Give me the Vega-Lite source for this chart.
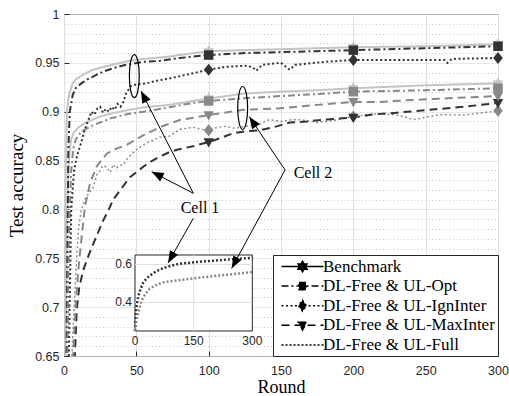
{
  "$schema": "https://vega.github.io/schema/vega-lite/v6.json",
  "width": 434,
  "height": 342,
  "autosize": {"type": "none"},
  "padding": {"left": 64, "top": 14, "right": 11, "bottom": 40},
  "background": "white",
  "datasets": {
    "curves": [
      {"cell":"Cell 1","method":"Benchmark","round":0,"acc":0.3},
      {"cell":"Cell 1","method":"Benchmark","round":1,"acc":0.82},
      {"cell":"Cell 1","method":"Benchmark","round":2,"acc":0.9},
      {"cell":"Cell 1","method":"Benchmark","round":3,"acc":0.913},
      {"cell":"Cell 1","method":"Benchmark","round":4,"acc":0.92},
      {"cell":"Cell 1","method":"Benchmark","round":6,"acc":0.929},
      {"cell":"Cell 1","method":"Benchmark","round":8,"acc":0.933},
      {"cell":"Cell 1","method":"Benchmark","round":12,"acc":0.937},
      {"cell":"Cell 1","method":"Benchmark","round":16,"acc":0.94},
      {"cell":"Cell 1","method":"Benchmark","round":20,"acc":0.943},
      {"cell":"Cell 1","method":"Benchmark","round":28,"acc":0.946},
      {"cell":"Cell 1","method":"Benchmark","round":36,"acc":0.949},
      {"cell":"Cell 1","method":"Benchmark","round":45,"acc":0.952},
      {"cell":"Cell 1","method":"Benchmark","round":55,"acc":0.954},
      {"cell":"Cell 1","method":"Benchmark","round":70,"acc":0.956},
      {"cell":"Cell 1","method":"Benchmark","round":85,"acc":0.959},
      {"cell":"Cell 1","method":"Benchmark","round":100,"acc":0.962},
      {"cell":"Cell 1","method":"Benchmark","round":125,"acc":0.963},
      {"cell":"Cell 1","method":"Benchmark","round":150,"acc":0.964},
      {"cell":"Cell 1","method":"Benchmark","round":175,"acc":0.965},
      {"cell":"Cell 1","method":"Benchmark","round":200,"acc":0.966},
      {"cell":"Cell 1","method":"Benchmark","round":250,"acc":0.967},
      {"cell":"Cell 1","method":"Benchmark","round":300,"acc":0.969},
      {"cell":"Cell 2","method":"Benchmark","round":0,"acc":0.3},
      {"cell":"Cell 2","method":"Benchmark","round":1,"acc":0.6},
      {"cell":"Cell 2","method":"Benchmark","round":2,"acc":0.78},
      {"cell":"Cell 2","method":"Benchmark","round":3,"acc":0.84},
      {"cell":"Cell 2","method":"Benchmark","round":4,"acc":0.862},
      {"cell":"Cell 2","method":"Benchmark","round":5,"acc":0.872},
      {"cell":"Cell 2","method":"Benchmark","round":7,"acc":0.879},
      {"cell":"Cell 2","method":"Benchmark","round":10,"acc":0.884},
      {"cell":"Cell 2","method":"Benchmark","round":15,"acc":0.889},
      {"cell":"Cell 2","method":"Benchmark","round":20,"acc":0.892},
      {"cell":"Cell 2","method":"Benchmark","round":25,"acc":0.895},
      {"cell":"Cell 2","method":"Benchmark","round":32,"acc":0.898},
      {"cell":"Cell 2","method":"Benchmark","round":45,"acc":0.902},
      {"cell":"Cell 2","method":"Benchmark","round":55,"acc":0.9045},
      {"cell":"Cell 2","method":"Benchmark","round":73,"acc":0.907},
      {"cell":"Cell 2","method":"Benchmark","round":85,"acc":0.91},
      {"cell":"Cell 2","method":"Benchmark","round":100,"acc":0.9135},
      {"cell":"Cell 2","method":"Benchmark","round":124,"acc":0.9185},
      {"cell":"Cell 2","method":"Benchmark","round":149,"acc":0.9205},
      {"cell":"Cell 2","method":"Benchmark","round":175,"acc":0.922},
      {"cell":"Cell 2","method":"Benchmark","round":200,"acc":0.924},
      {"cell":"Cell 2","method":"Benchmark","round":250,"acc":0.927},
      {"cell":"Cell 2","method":"Benchmark","round":300,"acc":0.929},
      {"cell":"Cell 1","method":"DL-Free & UL-Opt","round":0,"acc":0.3},
      {"cell":"Cell 1","method":"DL-Free & UL-Opt","round":2,"acc":0.7},
      {"cell":"Cell 1","method":"DL-Free & UL-Opt","round":3,"acc":0.86},
      {"cell":"Cell 1","method":"DL-Free & UL-Opt","round":4,"acc":0.9},
      {"cell":"Cell 1","method":"DL-Free & UL-Opt","round":6,"acc":0.917},
      {"cell":"Cell 1","method":"DL-Free & UL-Opt","round":8,"acc":0.924},
      {"cell":"Cell 1","method":"DL-Free & UL-Opt","round":12,"acc":0.929},
      {"cell":"Cell 1","method":"DL-Free & UL-Opt","round":16,"acc":0.933},
      {"cell":"Cell 1","method":"DL-Free & UL-Opt","round":20,"acc":0.936},
      {"cell":"Cell 1","method":"DL-Free & UL-Opt","round":27,"acc":0.941},
      {"cell":"Cell 1","method":"DL-Free & UL-Opt","round":35,"acc":0.945},
      {"cell":"Cell 1","method":"DL-Free & UL-Opt","round":43,"acc":0.948},
      {"cell":"Cell 1","method":"DL-Free & UL-Opt","round":55,"acc":0.951},
      {"cell":"Cell 1","method":"DL-Free & UL-Opt","round":66,"acc":0.952},
      {"cell":"Cell 1","method":"DL-Free & UL-Opt","round":80,"acc":0.955},
      {"cell":"Cell 1","method":"DL-Free & UL-Opt","round":100,"acc":0.958},
      {"cell":"Cell 1","method":"DL-Free & UL-Opt","round":125,"acc":0.96},
      {"cell":"Cell 1","method":"DL-Free & UL-Opt","round":150,"acc":0.961},
      {"cell":"Cell 1","method":"DL-Free & UL-Opt","round":175,"acc":0.962},
      {"cell":"Cell 1","method":"DL-Free & UL-Opt","round":200,"acc":0.963},
      {"cell":"Cell 1","method":"DL-Free & UL-Opt","round":250,"acc":0.965},
      {"cell":"Cell 1","method":"DL-Free & UL-Opt","round":300,"acc":0.967},
      {"cell":"Cell 2","method":"DL-Free & UL-Opt","round":0,"acc":0.3},
      {"cell":"Cell 2","method":"DL-Free & UL-Opt","round":2,"acc":0.6},
      {"cell":"Cell 2","method":"DL-Free & UL-Opt","round":3,"acc":0.74},
      {"cell":"Cell 2","method":"DL-Free & UL-Opt","round":4,"acc":0.8},
      {"cell":"Cell 2","method":"DL-Free & UL-Opt","round":5,"acc":0.84},
      {"cell":"Cell 2","method":"DL-Free & UL-Opt","round":6.4,"acc":0.862},
      {"cell":"Cell 2","method":"DL-Free & UL-Opt","round":8,"acc":0.871},
      {"cell":"Cell 2","method":"DL-Free & UL-Opt","round":10,"acc":0.876},
      {"cell":"Cell 2","method":"DL-Free & UL-Opt","round":13.3,"acc":0.881},
      {"cell":"Cell 2","method":"DL-Free & UL-Opt","round":20,"acc":0.886},
      {"cell":"Cell 2","method":"DL-Free & UL-Opt","round":31.8,"acc":0.893},
      {"cell":"Cell 2","method":"DL-Free & UL-Opt","round":45,"acc":0.898},
      {"cell":"Cell 2","method":"DL-Free & UL-Opt","round":55,"acc":0.9},
      {"cell":"Cell 2","method":"DL-Free & UL-Opt","round":73,"acc":0.9045},
      {"cell":"Cell 2","method":"DL-Free & UL-Opt","round":85,"acc":0.908},
      {"cell":"Cell 2","method":"DL-Free & UL-Opt","round":100,"acc":0.911},
      {"cell":"Cell 2","method":"DL-Free & UL-Opt","round":124,"acc":0.9137},
      {"cell":"Cell 2","method":"DL-Free & UL-Opt","round":149,"acc":0.916},
      {"cell":"Cell 2","method":"DL-Free & UL-Opt","round":175,"acc":0.918},
      {"cell":"Cell 2","method":"DL-Free & UL-Opt","round":200,"acc":0.9205},
      {"cell":"Cell 2","method":"DL-Free & UL-Opt","round":250,"acc":0.922},
      {"cell":"Cell 2","method":"DL-Free & UL-Opt","round":300,"acc":0.924},
      {"cell":"Cell 1","method":"DL-Free & UL-IgnInter","round":0,"acc":0.3},
      {"cell":"Cell 1","method":"DL-Free & UL-IgnInter","round":3,"acc":0.62},
      {"cell":"Cell 1","method":"DL-Free & UL-IgnInter","round":5,"acc":0.8},
      {"cell":"Cell 1","method":"DL-Free & UL-IgnInter","round":7,"acc":0.84},
      {"cell":"Cell 1","method":"DL-Free & UL-IgnInter","round":9,"acc":0.855},
      {"cell":"Cell 1","method":"DL-Free & UL-IgnInter","round":11,"acc":0.864},
      {"cell":"Cell 1","method":"DL-Free & UL-IgnInter","round":14,"acc":0.88},
      {"cell":"Cell 1","method":"DL-Free & UL-IgnInter","round":17,"acc":0.892},
      {"cell":"Cell 1","method":"DL-Free & UL-IgnInter","round":19,"acc":0.9},
      {"cell":"Cell 1","method":"DL-Free & UL-IgnInter","round":21,"acc":0.897},
      {"cell":"Cell 1","method":"DL-Free & UL-IgnInter","round":23,"acc":0.903},
      {"cell":"Cell 1","method":"DL-Free & UL-IgnInter","round":25,"acc":0.905},
      {"cell":"Cell 1","method":"DL-Free & UL-IgnInter","round":27,"acc":0.899},
      {"cell":"Cell 1","method":"DL-Free & UL-IgnInter","round":29,"acc":0.903},
      {"cell":"Cell 1","method":"DL-Free & UL-IgnInter","round":31,"acc":0.9},
      {"cell":"Cell 1","method":"DL-Free & UL-IgnInter","round":33,"acc":0.905},
      {"cell":"Cell 1","method":"DL-Free & UL-IgnInter","round":35,"acc":0.902},
      {"cell":"Cell 1","method":"DL-Free & UL-IgnInter","round":37,"acc":0.908},
      {"cell":"Cell 1","method":"DL-Free & UL-IgnInter","round":39,"acc":0.905},
      {"cell":"Cell 1","method":"DL-Free & UL-IgnInter","round":41,"acc":0.91},
      {"cell":"Cell 1","method":"DL-Free & UL-IgnInter","round":43,"acc":0.919},
      {"cell":"Cell 1","method":"DL-Free & UL-IgnInter","round":46,"acc":0.926},
      {"cell":"Cell 1","method":"DL-Free & UL-IgnInter","round":50,"acc":0.928},
      {"cell":"Cell 1","method":"DL-Free & UL-IgnInter","round":57,"acc":0.929},
      {"cell":"Cell 1","method":"DL-Free & UL-IgnInter","round":65,"acc":0.932},
      {"cell":"Cell 1","method":"DL-Free & UL-IgnInter","round":73,"acc":0.934},
      {"cell":"Cell 1","method":"DL-Free & UL-IgnInter","round":85,"acc":0.938},
      {"cell":"Cell 1","method":"DL-Free & UL-IgnInter","round":100,"acc":0.943},
      {"cell":"Cell 1","method":"DL-Free & UL-IgnInter","round":112,"acc":0.946},
      {"cell":"Cell 1","method":"DL-Free & UL-IgnInter","round":125,"acc":0.947},
      {"cell":"Cell 1","method":"DL-Free & UL-IgnInter","round":130,"acc":0.946},
      {"cell":"Cell 1","method":"DL-Free & UL-IgnInter","round":133,"acc":0.942},
      {"cell":"Cell 1","method":"DL-Free & UL-IgnInter","round":137,"acc":0.948},
      {"cell":"Cell 1","method":"DL-Free & UL-IgnInter","round":150,"acc":0.95},
      {"cell":"Cell 1","method":"DL-Free & UL-IgnInter","round":156,"acc":0.943},
      {"cell":"Cell 1","method":"DL-Free & UL-IgnInter","round":160,"acc":0.948},
      {"cell":"Cell 1","method":"DL-Free & UL-IgnInter","round":180,"acc":0.951},
      {"cell":"Cell 1","method":"DL-Free & UL-IgnInter","round":200,"acc":0.953},
      {"cell":"Cell 1","method":"DL-Free & UL-IgnInter","round":220,"acc":0.953},
      {"cell":"Cell 1","method":"DL-Free & UL-IgnInter","round":250,"acc":0.953},
      {"cell":"Cell 1","method":"DL-Free & UL-IgnInter","round":263,"acc":0.953},
      {"cell":"Cell 1","method":"DL-Free & UL-IgnInter","round":265,"acc":0.95},
      {"cell":"Cell 1","method":"DL-Free & UL-IgnInter","round":268,"acc":0.954},
      {"cell":"Cell 1","method":"DL-Free & UL-IgnInter","round":300,"acc":0.955},
      {"cell":"Cell 2","method":"DL-Free & UL-IgnInter","round":0,"acc":0.3},
      {"cell":"Cell 2","method":"DL-Free & UL-IgnInter","round":4,"acc":0.58},
      {"cell":"Cell 2","method":"DL-Free & UL-IgnInter","round":6,"acc":0.67},
      {"cell":"Cell 2","method":"DL-Free & UL-IgnInter","round":8,"acc":0.73},
      {"cell":"Cell 2","method":"DL-Free & UL-IgnInter","round":10,"acc":0.78},
      {"cell":"Cell 2","method":"DL-Free & UL-IgnInter","round":12,"acc":0.8},
      {"cell":"Cell 2","method":"DL-Free & UL-IgnInter","round":15,"acc":0.812},
      {"cell":"Cell 2","method":"DL-Free & UL-IgnInter","round":18,"acc":0.818},
      {"cell":"Cell 2","method":"DL-Free & UL-IgnInter","round":20,"acc":0.822},
      {"cell":"Cell 2","method":"DL-Free & UL-IgnInter","round":22.6,"acc":0.835},
      {"cell":"Cell 2","method":"DL-Free & UL-IgnInter","round":25,"acc":0.84},
      {"cell":"Cell 2","method":"DL-Free & UL-IgnInter","round":27,"acc":0.845},
      {"cell":"Cell 2","method":"DL-Free & UL-IgnInter","round":29.5,"acc":0.843},
      {"cell":"Cell 2","method":"DL-Free & UL-IgnInter","round":32,"acc":0.838},
      {"cell":"Cell 2","method":"DL-Free & UL-IgnInter","round":34,"acc":0.846},
      {"cell":"Cell 2","method":"DL-Free & UL-IgnInter","round":36,"acc":0.842},
      {"cell":"Cell 2","method":"DL-Free & UL-IgnInter","round":38.7,"acc":0.845},
      {"cell":"Cell 2","method":"DL-Free & UL-IgnInter","round":41,"acc":0.846},
      {"cell":"Cell 2","method":"DL-Free & UL-IgnInter","round":43.3,"acc":0.851},
      {"cell":"Cell 2","method":"DL-Free & UL-IgnInter","round":47,"acc":0.857},
      {"cell":"Cell 2","method":"DL-Free & UL-IgnInter","round":50,"acc":0.861},
      {"cell":"Cell 2","method":"DL-Free & UL-IgnInter","round":54,"acc":0.865},
      {"cell":"Cell 2","method":"DL-Free & UL-IgnInter","round":57,"acc":0.868},
      {"cell":"Cell 2","method":"DL-Free & UL-IgnInter","round":62,"acc":0.871},
      {"cell":"Cell 2","method":"DL-Free & UL-IgnInter","round":66,"acc":0.874},
      {"cell":"Cell 2","method":"DL-Free & UL-IgnInter","round":73,"acc":0.875},
      {"cell":"Cell 2","method":"DL-Free & UL-IgnInter","round":80,"acc":0.882},
      {"cell":"Cell 2","method":"DL-Free & UL-IgnInter","round":89,"acc":0.884},
      {"cell":"Cell 2","method":"DL-Free & UL-IgnInter","round":95,"acc":0.882},
      {"cell":"Cell 2","method":"DL-Free & UL-IgnInter","round":100,"acc":0.881},
      {"cell":"Cell 2","method":"DL-Free & UL-IgnInter","round":106,"acc":0.884},
      {"cell":"Cell 2","method":"DL-Free & UL-IgnInter","round":112,"acc":0.885},
      {"cell":"Cell 2","method":"DL-Free & UL-IgnInter","round":118,"acc":0.883},
      {"cell":"Cell 2","method":"DL-Free & UL-IgnInter","round":125,"acc":0.885},
      {"cell":"Cell 2","method":"DL-Free & UL-IgnInter","round":135,"acc":0.887},
      {"cell":"Cell 2","method":"DL-Free & UL-IgnInter","round":142,"acc":0.892},
      {"cell":"Cell 2","method":"DL-Free & UL-IgnInter","round":150,"acc":0.89},
      {"cell":"Cell 2","method":"DL-Free & UL-IgnInter","round":158,"acc":0.892},
      {"cell":"Cell 2","method":"DL-Free & UL-IgnInter","round":165,"acc":0.8915},
      {"cell":"Cell 2","method":"DL-Free & UL-IgnInter","round":175,"acc":0.889},
      {"cell":"Cell 2","method":"DL-Free & UL-IgnInter","round":188,"acc":0.8915},
      {"cell":"Cell 2","method":"DL-Free & UL-IgnInter","round":200,"acc":0.895},
      {"cell":"Cell 2","method":"DL-Free & UL-IgnInter","round":210,"acc":0.897},
      {"cell":"Cell 2","method":"DL-Free & UL-IgnInter","round":218,"acc":0.898},
      {"cell":"Cell 2","method":"DL-Free & UL-IgnInter","round":228,"acc":0.897},
      {"cell":"Cell 2","method":"DL-Free & UL-IgnInter","round":235,"acc":0.895},
      {"cell":"Cell 2","method":"DL-Free & UL-IgnInter","round":241,"acc":0.892},
      {"cell":"Cell 2","method":"DL-Free & UL-IgnInter","round":246,"acc":0.893},
      {"cell":"Cell 2","method":"DL-Free & UL-IgnInter","round":252,"acc":0.895},
      {"cell":"Cell 2","method":"DL-Free & UL-IgnInter","round":260,"acc":0.897},
      {"cell":"Cell 2","method":"DL-Free & UL-IgnInter","round":276,"acc":0.8966},
      {"cell":"Cell 2","method":"DL-Free & UL-IgnInter","round":290,"acc":0.899},
      {"cell":"Cell 2","method":"DL-Free & UL-IgnInter","round":300,"acc":0.901},
      {"cell":"Cell 1","method":"DL-Free & UL-MaxInter","round":0,"acc":0.3},
      {"cell":"Cell 1","method":"DL-Free & UL-MaxInter","round":4,"acc":0.5},
      {"cell":"Cell 1","method":"DL-Free & UL-MaxInter","round":7.6,"acc":0.653},
      {"cell":"Cell 1","method":"DL-Free & UL-MaxInter","round":8.8,"acc":0.697},
      {"cell":"Cell 1","method":"DL-Free & UL-MaxInter","round":10.5,"acc":0.72},
      {"cell":"Cell 1","method":"DL-Free & UL-MaxInter","round":13.3,"acc":0.738},
      {"cell":"Cell 1","method":"DL-Free & UL-MaxInter","round":17,"acc":0.753},
      {"cell":"Cell 1","method":"DL-Free & UL-MaxInter","round":20.3,"acc":0.765},
      {"cell":"Cell 1","method":"DL-Free & UL-MaxInter","round":24,"acc":0.778},
      {"cell":"Cell 1","method":"DL-Free & UL-MaxInter","round":27.2,"acc":0.789},
      {"cell":"Cell 1","method":"DL-Free & UL-MaxInter","round":31,"acc":0.8},
      {"cell":"Cell 1","method":"DL-Free & UL-MaxInter","round":34,"acc":0.81},
      {"cell":"Cell 1","method":"DL-Free & UL-MaxInter","round":40,"acc":0.822},
      {"cell":"Cell 1","method":"DL-Free & UL-MaxInter","round":45.6,"acc":0.833},
      {"cell":"Cell 1","method":"DL-Free & UL-MaxInter","round":50,"acc":0.838},
      {"cell":"Cell 1","method":"DL-Free & UL-MaxInter","round":55,"acc":0.844},
      {"cell":"Cell 1","method":"DL-Free & UL-MaxInter","round":60,"acc":0.849},
      {"cell":"Cell 1","method":"DL-Free & UL-MaxInter","round":66,"acc":0.854},
      {"cell":"Cell 1","method":"DL-Free & UL-MaxInter","round":72,"acc":0.858},
      {"cell":"Cell 1","method":"DL-Free & UL-MaxInter","round":78,"acc":0.861},
      {"cell":"Cell 1","method":"DL-Free & UL-MaxInter","round":90,"acc":0.865},
      {"cell":"Cell 1","method":"DL-Free & UL-MaxInter","round":100,"acc":0.869},
      {"cell":"Cell 1","method":"DL-Free & UL-MaxInter","round":108,"acc":0.873},
      {"cell":"Cell 1","method":"DL-Free & UL-MaxInter","round":117,"acc":0.878},
      {"cell":"Cell 1","method":"DL-Free & UL-MaxInter","round":126,"acc":0.88},
      {"cell":"Cell 1","method":"DL-Free & UL-MaxInter","round":135,"acc":0.881},
      {"cell":"Cell 1","method":"DL-Free & UL-MaxInter","round":147,"acc":0.885},
      {"cell":"Cell 1","method":"DL-Free & UL-MaxInter","round":156,"acc":0.889},
      {"cell":"Cell 1","method":"DL-Free & UL-MaxInter","round":168,"acc":0.89},
      {"cell":"Cell 1","method":"DL-Free & UL-MaxInter","round":180,"acc":0.892},
      {"cell":"Cell 1","method":"DL-Free & UL-MaxInter","round":200,"acc":0.894},
      {"cell":"Cell 1","method":"DL-Free & UL-MaxInter","round":212,"acc":0.897},
      {"cell":"Cell 1","method":"DL-Free & UL-MaxInter","round":230,"acc":0.899},
      {"cell":"Cell 1","method":"DL-Free & UL-MaxInter","round":253,"acc":0.902},
      {"cell":"Cell 1","method":"DL-Free & UL-MaxInter","round":276,"acc":0.905},
      {"cell":"Cell 1","method":"DL-Free & UL-MaxInter","round":300,"acc":0.909},
      {"cell":"Cell 2","method":"DL-Free & UL-MaxInter","round":0,"acc":0.3},
      {"cell":"Cell 2","method":"DL-Free & UL-MaxInter","round":4,"acc":0.55},
      {"cell":"Cell 2","method":"DL-Free & UL-MaxInter","round":6,"acc":0.64},
      {"cell":"Cell 2","method":"DL-Free & UL-MaxInter","round":8,"acc":0.7},
      {"cell":"Cell 2","method":"DL-Free & UL-MaxInter","round":9.9,"acc":0.738},
      {"cell":"Cell 2","method":"DL-Free & UL-MaxInter","round":12.2,"acc":0.772},
      {"cell":"Cell 2","method":"DL-Free & UL-MaxInter","round":14.5,"acc":0.803},
      {"cell":"Cell 2","method":"DL-Free & UL-MaxInter","round":18,"acc":0.827},
      {"cell":"Cell 2","method":"DL-Free & UL-MaxInter","round":22.6,"acc":0.844},
      {"cell":"Cell 2","method":"DL-Free & UL-MaxInter","round":29.5,"acc":0.857},
      {"cell":"Cell 2","method":"DL-Free & UL-MaxInter","round":36,"acc":0.862},
      {"cell":"Cell 2","method":"DL-Free & UL-MaxInter","round":43.3,"acc":0.866},
      {"cell":"Cell 2","method":"DL-Free & UL-MaxInter","round":55,"acc":0.876},
      {"cell":"Cell 2","method":"DL-Free & UL-MaxInter","round":66,"acc":0.884},
      {"cell":"Cell 2","method":"DL-Free & UL-MaxInter","round":80,"acc":0.8915},
      {"cell":"Cell 2","method":"DL-Free & UL-MaxInter","round":90,"acc":0.894},
      {"cell":"Cell 2","method":"DL-Free & UL-MaxInter","round":100,"acc":0.8966},
      {"cell":"Cell 2","method":"DL-Free & UL-MaxInter","round":124,"acc":0.902},
      {"cell":"Cell 2","method":"DL-Free & UL-MaxInter","round":149,"acc":0.9035},
      {"cell":"Cell 2","method":"DL-Free & UL-MaxInter","round":175,"acc":0.907},
      {"cell":"Cell 2","method":"DL-Free & UL-MaxInter","round":200,"acc":0.91},
      {"cell":"Cell 2","method":"DL-Free & UL-MaxInter","round":218,"acc":0.91},
      {"cell":"Cell 2","method":"DL-Free & UL-MaxInter","round":240,"acc":0.912},
      {"cell":"Cell 2","method":"DL-Free & UL-MaxInter","round":265,"acc":0.9137},
      {"cell":"Cell 2","method":"DL-Free & UL-MaxInter","round":300,"acc":0.916}
    ],
    "full": [
      {"cell":"Cell 1","method":"DL-Free & UL-Full","round":0,"acc":0.25},
      {"cell":"Cell 1","method":"DL-Free & UL-Full","round":1,"acc":0.3},
      {"cell":"Cell 1","method":"DL-Free & UL-Full","round":2,"acc":0.34},
      {"cell":"Cell 1","method":"DL-Free & UL-Full","round":4,"acc":0.38},
      {"cell":"Cell 1","method":"DL-Free & UL-Full","round":8,"acc":0.43},
      {"cell":"Cell 1","method":"DL-Free & UL-Full","round":14,"acc":0.47},
      {"cell":"Cell 1","method":"DL-Free & UL-Full","round":21,"acc":0.505},
      {"cell":"Cell 1","method":"DL-Free & UL-Full","round":30,"acc":0.527},
      {"cell":"Cell 1","method":"DL-Free & UL-Full","round":38,"acc":0.542},
      {"cell":"Cell 1","method":"DL-Free & UL-Full","round":55,"acc":0.565},
      {"cell":"Cell 1","method":"DL-Free & UL-Full","round":72,"acc":0.581},
      {"cell":"Cell 1","method":"DL-Free & UL-Full","round":95,"acc":0.595},
      {"cell":"Cell 1","method":"DL-Free & UL-Full","round":115,"acc":0.604},
      {"cell":"Cell 1","method":"DL-Free & UL-Full","round":158,"acc":0.613},
      {"cell":"Cell 1","method":"DL-Free & UL-Full","round":200,"acc":0.62},
      {"cell":"Cell 1","method":"DL-Free & UL-Full","round":243,"acc":0.627},
      {"cell":"Cell 1","method":"DL-Free & UL-Full","round":300,"acc":0.635},
      {"cell":"Cell 2","method":"DL-Free & UL-Full","round":0,"acc":0.25},
      {"cell":"Cell 2","method":"DL-Free & UL-Full","round":3,"acc":0.29},
      {"cell":"Cell 2","method":"DL-Free & UL-Full","round":6,"acc":0.33},
      {"cell":"Cell 2","method":"DL-Free & UL-Full","round":10,"acc":0.36},
      {"cell":"Cell 2","method":"DL-Free & UL-Full","round":17,"acc":0.41},
      {"cell":"Cell 2","method":"DL-Free & UL-Full","round":25,"acc":0.44},
      {"cell":"Cell 2","method":"DL-Free & UL-Full","round":38,"acc":0.474},
      {"cell":"Cell 2","method":"DL-Free & UL-Full","round":55,"acc":0.493},
      {"cell":"Cell 2","method":"DL-Free & UL-Full","round":72,"acc":0.506},
      {"cell":"Cell 2","method":"DL-Free & UL-Full","round":95,"acc":0.513},
      {"cell":"Cell 2","method":"DL-Free & UL-Full","round":115,"acc":0.518},
      {"cell":"Cell 2","method":"DL-Free & UL-Full","round":150,"acc":0.527},
      {"cell":"Cell 2","method":"DL-Free & UL-Full","round":200,"acc":0.539},
      {"cell":"Cell 2","method":"DL-Free & UL-Full","round":250,"acc":0.549},
      {"cell":"Cell 2","method":"DL-Free & UL-Full","round":300,"acc":0.56}
    ],
    "arrows": [
      {"sx":89.4,"sy":0.8165,"tx":53.2,"ty":0.9212},
      {"sx":89.4,"sy":0.8165,"tx":60.6,"ty":0.8386},
      {"sx":89.4,"sy":0.7909,"tx":71.9,"ty":0.7452},
      {"sx":152.8,"sy":0.8404,"tx":128.1,"ty":0.8949},
      {"sx":152.8,"sy":0.8404,"tx":115.9,"ty":0.7397}
    ],
    "ellipses": [
      {"ex":48.6,"ey":0.9365,"tag":"E1"},
      {"ex":123.5,"ey":0.9038,"tag":"E2"}
    ],
    "cells": [
      {"lx":94.0,"ly":0.8015,"txt":"Cell 1"},
      {"lx":172.1,"ly":0.8373,"txt":"Cell 2"}
    ]
  },
  "layer": [
    {
      "data": {"name": "curves"},
      "transform": [{"filter": "false"}],
      "mark": {"type": "point", "filled": false, "opacity": 1, "color": "black", "fill": "black", "stroke": "black", "strokeWidth": 1.5},
      "encoding": {
        "shape": {"field": "method", "type": "nominal",
          "scale": {"domain": ["Benchmark", "DL-Free & UL-Opt", "DL-Free & UL-IgnInter", "DL-Free & UL-MaxInter", "DL-Free & UL-Full"],
            "range": [
              "M-4.2,0H4.2M0,-1.05L0.3,-0.525L0.91,-0.525L0.6,0L0.91,0.525L0.3,0.525L0,1.05L-0.3,0.525L-0.91,0.525L-0.6,0L-0.91,-0.525L-0.3,-0.525Z",
              "M-4.2,0H4.2M-0.71,-0.71H0.71V0.71H-0.71Z",
              "M-4.2,0H4.2M0,-1.09L0.8,0L0,1.09L-0.8,0Z",
              "M-4.2,0H4.2M-0.88,-0.63H0.88L0,0.92Z",
              "M-4.2,0H4.2"
            ]},
          "legend": {"title": null, "orient": "bottom-right", "offset": 0, "fillColor": "white", "strokeColor": "#262626", "padding": 3, "labelFont": "Liberation Serif", "labelFontSize": 17, "labelColor": "black", "labelLimit": 0, "labelOffset": 12, "symbolOffset": 18, "symbolSize": 100, "symbolStrokeWidth": 1.5, "rowPadding": 1.6}},
        "strokeDash": {"field": "method", "type": "nominal",
          "scale": {"domain": ["Benchmark", "DL-Free & UL-Opt", "DL-Free & UL-IgnInter", "DL-Free & UL-MaxInter", "DL-Free & UL-Full"],
            "range": [[1, 0], [7, 3, 2, 3], [2, 2.5], [8, 5], [2, 2]]},
          "legend": {"title": null, "orient": "bottom-right", "offset": 0, "fillColor": "white", "strokeColor": "#262626", "padding": 3, "labelFont": "Liberation Serif", "labelFontSize": 17, "labelColor": "black", "labelLimit": 0, "labelOffset": 12, "symbolOffset": 18, "symbolSize": 100, "symbolStrokeWidth": 1.5, "rowPadding": 1.6}}
      }
    },
    {
      "data": {"name": "curves"},
      "transform": [{"filter": "datum.method !== 'DL-Free & UL-Full'"}],
      "mark": {"type": "line", "clip": true},
      "encoding": {
        "x": {"field": "round", "type": "quantitative", "scale": {"domain": [0, 300], "nice": false, "zero": false},
          "axis": {"values": [0, 50, 100, 150, 200, 250, 300], "title": "Round", "grid": true, "ticks": true, "tickSize": -5, "tickColor": "#262626", "labelPadding": 13, "titleBaseline": "alphabetic", "titleY": 36, "labelFlush": false, "orient": "bottom", "titleFontSize": 18}},
        "y": {"field": "acc", "type": "quantitative", "scale": {"domain": [0.65, 1], "nice": false, "zero": false},
          "axis": {"values": [0.65,0.66,0.67,0.68,0.69,0.7,0.71,0.72,0.73,0.74,0.75,0.76,0.77,0.78,0.79,0.8,0.81,0.82,0.83,0.84,0.85,0.86,0.87,0.88,0.89,0.9,0.91,0.92,0.93,0.94,0.95,0.96,0.97,0.98,0.99,1],
            "orient": "left", "title": "Test accuracy", "grid": true, "ticks": true, "tickSize": -5, "tickColor": "#262626", "labelPadding": 10, "titlePadding": 8, "labelOverlap": false, "labelFlush": false,
            "tickOpacity": {"condition": {"test": "round(datum.value*100) % 5 != 0", "value": 0}, "value": 1},
            "labelExpr": "round(datum.value*100) % 5 == 0 ? format(datum.value, '.2~f') : ''",
            "gridDash": {"condition": {"test": "round(datum.value*100) % 5 != 0", "value": [1, 2.5]}, "value": [1, 0]},
            "gridColor": {"condition": {"test": "round(datum.value*100) % 5 != 0", "value": "#c8c8c8"}, "value": "#e0e0e0"}}},
        "color": {"condition": {"test": "datum.method === 'Benchmark'", "value": "#c4c4c4"}, "field": "cell", "type": "nominal",
          "scale": {"domain": ["Cell 1", "Cell 2"], "range": ["#333333", "#888888"]}, "legend": null},
        "strokeDash": {"field": "method", "type": "nominal",
          "scale": {"domain": ["Benchmark", "DL-Free & UL-Opt", "DL-Free & UL-IgnInter", "DL-Free & UL-MaxInter", "DL-Free & UL-Full"],
            "range": [[1, 0], [7, 3, 2, 3], [2, 2.5], [8, 5], [2, 2]]},
          "legend": {"title": null, "orient": "bottom-right", "offset": 0, "fillColor": "white", "strokeColor": "#262626", "padding": 3, "labelFont": "Liberation Serif", "labelFontSize": 17, "labelColor": "black", "labelLimit": 0, "labelOffset": 12, "symbolOffset": 18, "symbolSize": 100, "symbolStrokeWidth": 1.5, "rowPadding": 1.6}},
        "strokeWidth": {"condition": {"test": "datum.cell === 'Cell 2' && datum.method === 'DL-Free & UL-IgnInter'", "value": 1.4}, "value": 2},
        "detail": {"field": "cell", "type": "nominal"}
      }
    },
    {
      "data": {"name": "curves"},
      "transform": [{"filter": "datum.method === 'Benchmark' && (datum.round === 100 || datum.round === 200 || datum.round === 300)"}],
      "mark": {"type": "point", "filled": true, "opacity": 1, "size": 144, "shape": "M0,-1L0.289,-0.5L0.866,-0.5L0.577,0L0.866,0.5L0.289,0.5L0,1L-0.289,0.5L-0.866,0.5L-0.577,0L-0.866,-0.5L-0.289,-0.5Z", "color": "#c4c4c4"},
      "encoding": {
        "x": {"field": "round", "type": "quantitative", "scale": {"domain": [0, 300], "nice": false, "zero": false}, "axis": null},
        "y": {"field": "acc", "type": "quantitative", "scale": {"domain": [0.65, 1], "nice": false, "zero": false}, "axis": null}
      }
    },
    {
      "data": {"name": "curves"},
      "transform": [{"filter": "datum.method === 'DL-Free & UL-Opt' && (datum.round === 100 || datum.round === 200 || datum.round === 300)"}],
      "mark": {"type": "point", "filled": true, "opacity": 1, "size": 90, "shape": "square"},
      "encoding": {
        "x": {"field": "round", "type": "quantitative", "scale": {"domain": [0, 300], "nice": false, "zero": false}, "axis": null},
        "y": {"field": "acc", "type": "quantitative", "scale": {"domain": [0.65, 1], "nice": false, "zero": false}, "axis": null},
        "color": {"field": "cell", "type": "nominal", "legend": null}
      }
    },
    {
      "data": {"name": "curves"},
      "transform": [{"filter": "datum.method === 'DL-Free & UL-IgnInter' && (datum.round === 100 || datum.round === 200 || datum.round === 300)"}],
      "mark": {"type": "point", "filled": true, "opacity": 1, "size": 144, "shape": "M0,-1L0.8,0L0,1L-0.8,0Z"},
      "encoding": {
        "x": {"field": "round", "type": "quantitative", "scale": {"domain": [0, 300], "nice": false, "zero": false}, "axis": null},
        "y": {"field": "acc", "type": "quantitative", "scale": {"domain": [0.65, 1], "nice": false, "zero": false}, "axis": null},
        "color": {"field": "cell", "type": "nominal", "legend": null}
      }
    },
    {
      "data": {"name": "curves"},
      "transform": [{"filter": "datum.method === 'DL-Free & UL-MaxInter' && (datum.round === 100 || datum.round === 200 || datum.round === 300)"}],
      "mark": {"type": "point", "filled": true, "opacity": 1, "size": 120, "shape": "M-0.95,-0.7H0.95L0,1Z"},
      "encoding": {
        "x": {"field": "round", "type": "quantitative", "scale": {"domain": [0, 300], "nice": false, "zero": false}, "axis": null},
        "y": {"field": "acc", "type": "quantitative", "scale": {"domain": [0.65, 1], "nice": false, "zero": false}, "axis": null},
        "color": {"field": "cell", "type": "nominal", "legend": null}
      }
    },
    {
      "data": {"values": [{}]},
      "mark": {"type": "rect", "fill": "white", "stroke": "#262626", "strokeWidth": 1},
      "encoding": {
        "x": {"datum": 0, "type": "quantitative", "scale": {"domain": [-181.6, 928.4], "nice": false, "zero": false}, "axis": null},
        "x2": {"datum": 300},
        "y": {"datum": 0.25, "type": "quantitative", "scale": {"domain": [0.1184, 1.9184], "nice": false, "zero": false}, "axis": null},
        "y2": {"datum": 0.65}
      }
    },
    {
      "data": {"values": [{"gx": 150}]},
      "mark": {"type": "rule", "color": "#e0e0e0", "strokeWidth": 1},
      "encoding": {
        "x": {"field": "gx", "type": "quantitative", "scale": {"domain": [-181.6, 928.4], "nice": false, "zero": false}, "axis": null},
        "y": {"datum": 0.25, "type": "quantitative", "scale": {"domain": [0.1184, 1.9184], "nice": false, "zero": false}, "axis": null},
        "y2": {"datum": 0.65}
      }
    },
    {
      "data": {"values": [{"gy": 0.4}, {"gy": 0.6}]},
      "mark": {"type": "rule", "color": "#e0e0e0", "strokeWidth": 1},
      "encoding": {
        "y": {"field": "gy", "type": "quantitative", "scale": {"domain": [0.1184, 1.9184], "nice": false, "zero": false}, "axis": null},
        "x": {"datum": 0, "type": "quantitative", "scale": {"domain": [-181.6, 928.4], "nice": false, "zero": false}, "axis": null},
        "x2": {"datum": 300}
      }
    },
    {
      "data": {"name": "full"},
      "mark": {"type": "line", "strokeWidth": 2.5},
      "encoding": {
        "x": {"field": "round", "type": "quantitative", "scale": {"domain": [-181.6, 928.4], "nice": false, "zero": false}, "axis": null},
        "y": {"field": "acc", "type": "quantitative", "scale": {"domain": [0.1184, 1.9184], "nice": false, "zero": false}, "axis": null},
        "color": {"field": "cell", "type": "nominal", "legend": null},
        "strokeDash": {"field": "method", "type": "nominal",
          "legend": {"title": null, "orient": "bottom-right", "offset": 0, "fillColor": "white", "strokeColor": "#262626", "padding": 3, "labelFont": "Liberation Serif", "labelFontSize": 17, "labelColor": "black", "labelLimit": 0, "labelOffset": 12, "symbolOffset": 18, "symbolSize": 100, "symbolStrokeWidth": 1.5, "rowPadding": 1.6}}
      }
    },
    {
      "data": {"values": [{"t": 0, "lab": "0"}, {"t": 150, "lab": "150"}, {"t": 300, "lab": "300"}]},
      "mark": {"type": "text", "font": "Liberation Sans", "fontSize": 12, "color": "#262626", "baseline": "middle", "dy": 10},
      "encoding": {
        "x": {"field": "t", "type": "quantitative", "scale": {"domain": [-181.6, 928.4], "nice": false, "zero": false}, "axis": null},
        "y": {"datum": 0.25, "type": "quantitative", "scale": {"domain": [0.1184, 1.9184], "nice": false, "zero": false}, "axis": null},
        "text": {"field": "lab"}
      }
    },
    {
      "data": {"values": [{"t": 0.4, "lab": "0.4"}, {"t": 0.6, "lab": "0.6"}]},
      "mark": {"type": "text", "font": "Liberation Sans", "fontSize": 12, "color": "#262626", "baseline": "middle", "align": "right", "dx": -3},
      "encoding": {
        "y": {"field": "t", "type": "quantitative", "scale": {"domain": [0.1184, 1.9184], "nice": false, "zero": false}, "axis": null},
        "x": {"datum": 0, "type": "quantitative", "scale": {"domain": [-181.6, 928.4], "nice": false, "zero": false}, "axis": null},
        "text": {"field": "lab"}
      }
    },
    {
      "data": {"name": "arrows"},
      "mark": {"type": "rule", "color": "black", "strokeWidth": 1},
      "encoding": {
        "x": {"field": "sx", "type": "quantitative", "scale": {"domain": [0, 300], "nice": false, "zero": false}, "axis": null},
        "y": {"field": "sy", "type": "quantitative", "scale": {"domain": [0.65, 1], "nice": false, "zero": false}, "axis": null},
        "x2": {"field": "tx"},
        "y2": {"field": "ty"}
      }
    },
    {
      "data": {"name": "arrows"},
      "transform": [{"calculate": "atan2((datum.tx - datum.sx) * 1.4467, (datum.ty - datum.sy) * 977.1) * 180 / PI", "as": "ang"}],
      "mark": {"type": "point", "filled": true, "opacity": 1, "color": "black", "size": 120, "shape": "M0,0L-0.85,2.2L0.85,2.2Z"},
      "encoding": {
        "x": {"field": "tx", "type": "quantitative", "scale": {"domain": [0, 300], "nice": false, "zero": false}, "axis": null},
        "y": {"field": "ty", "type": "quantitative", "scale": {"domain": [0.65, 1], "nice": false, "zero": false}, "axis": null},
        "angle": {"field": "ang", "type": "quantitative", "scale": null}
      }
    },
    {
      "data": {"name": "ellipses"},
      "mark": {"type": "point", "filled": false, "opacity": 1, "stroke": "black", "strokeWidth": 1.2, "size": 1850, "shape": "M0,-1A0.23,1,0,1,1,0,1A0.23,1,0,1,1,0,-1Z"},
      "encoding": {
        "x": {"field": "ex", "type": "quantitative", "scale": {"domain": [0, 300], "nice": false, "zero": false}, "axis": null},
        "y": {"field": "ey", "type": "quantitative", "scale": {"domain": [0.65, 1], "nice": false, "zero": false}, "axis": null}
      }
    },
    {
      "data": {"name": "cells"},
      "mark": {"type": "text", "font": "Liberation Serif", "fontSize": 16, "color": "black", "baseline": "middle", "align": "center"},
      "encoding": {
        "x": {"field": "lx", "type": "quantitative", "scale": {"domain": [0, 300], "nice": false, "zero": false}, "axis": null},
        "y": {"field": "ly", "type": "quantitative", "scale": {"domain": [0.65, 1], "nice": false, "zero": false}, "axis": null},
        "text": {"field": "txt"}
      }
    }
  ],
  "resolve": {"scale": {"x": "independent", "y": "independent"}},
  "config": {
    "view": {"stroke": "#262626", "strokeWidth": 1},
    "axis": {"labelFont": "Liberation Sans", "labelFontSize": 12.5, "labelColor": "#262626", "titleFont": "Liberation Serif", "titleFontSize": 19, "titleFontWeight": "normal", "titleColor": "black", "domain": false, "gridColor": "#e0e0e0", "gridWidth": 1}
  }
}
